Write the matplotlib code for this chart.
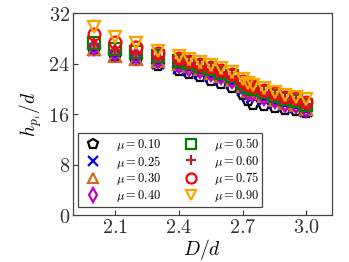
import matplotlib
matplotlib.use("Agg")
import matplotlib.pyplot as plt
from matplotlib.ticker import FuncFormatter

plt.rcParams['mathtext.fontset'] = 'cm'
plt.rcParams['font.family'] = ['DejaVu Serif']

D = [2.0, 2.1, 2.2, 2.3, 2.4, 2.45, 2.5, 2.55, 2.6, 2.65, 2.7, 2.725, 2.75, 2.8, 2.85, 2.9, 2.95, 3.0]

mu_labels = ['0.10', '0.25', '0.30', '0.40', '0.50', '0.60', '0.75', '0.90']
h_010 = [26.2, 25.2, 24.6, 23.8, 23.0, 22.6, 22.1, 21.5, 20.9, 20.3, 19.2, 18.2, 17.7, 17.4, 17.2, 16.9, 16.7, 16.3]
h_025 = [26.2, 25.2, 24.7, 24.1, 23.4, 23.0, 22.6, 22.1, 21.6, 21.0, 19.9, 19.1, 18.8, 18.3, 17.8, 17.4, 17.1, 16.5]
h_030 = [26.3, 25.3, 24.8, 24.4, 24.0, 23.6, 23.1, 22.6, 22.1, 21.5, 20.4, 19.7, 19.4, 18.9, 18.3, 17.8, 17.5, 16.9]
h_040 = [26.7, 25.7, 25.3, 24.6, 23.8, 23.4, 23.0, 22.5, 22.0, 21.4, 20.3, 19.6, 19.3, 18.8, 18.2, 17.7, 17.4, 16.8]
h_050 = [27.3, 26.3, 25.8, 25.2, 24.5, 24.1, 23.6, 23.1, 22.6, 22.0, 20.9, 20.3, 20.0, 19.5, 18.9, 18.4, 18.1, 17.5]
h_060 = [27.2, 26.2, 25.7, 25.1, 24.6, 24.2, 23.7, 23.2, 22.7, 22.1, 21.0, 20.4, 20.1, 19.6, 19.0, 18.5, 18.2, 17.6]
h_075 = [28.7, 27.5, 26.7, 25.7, 24.9, 24.5, 24.0, 23.5, 23.0, 22.4, 21.3, 20.7, 20.4, 19.9, 19.3, 18.8, 18.5, 18.0]
h_090 = [29.9, 28.2, 27.3, 26.1, 25.2, 24.8, 24.3, 23.8, 23.3, 22.7, 21.6, 21.0, 20.7, 20.2, 19.6, 19.1, 18.8, 18.4]
series = [h_010, h_025, h_030, h_040, h_050, h_060, h_075, h_090]

markers = ['p', 'x', '^', 'd', 's', '+', 'o', 'v']
colors = ['black', 'blue', 'chocolate', 'm', 'green', 'brown', 'red', 'orange']

xticks = [2.1, 2.4, 2.7, 3.0]
yticks = [0, 8, 16, 24, 32]

fig = plt.figure(figsize=(3.49, 2.62), dpi=100)
ax = fig.add_axes([0.208, 0.179, 0.743, 0.770])

for h, m, c, lab in zip(series, markers, colors, mu_labels):
    filled = m in ('x', '+')
    ax.plot(D, h, linestyle='none', marker=m, markersize=8.5,
            markeredgewidth=1.6, markeredgecolor=c,
            markerfacecolor=(c if filled else 'none'),
            label=r'$\mu = %s$' % lab)

ax.set_xlim(1.9, 3.12)
ax.set_ylim(0, 32)
ax.set_xticks(xticks)
ax.set_yticks(yticks)
ax.xaxis.set_major_formatter(FuncFormatter(lambda v, p: r'$%.1f$' % v))
ax.yaxis.set_major_formatter(FuncFormatter(lambda v, p: r'$%d$' % v))
ax.tick_params(direction='in', length=3.5, width=0.8, labelsize=14.5, colors='#333333', pad=2)
for s in ax.spines.values():
    s.set_color('#444444')
    s.set_linewidth(0.9)

ax.set_xlabel(r'$D/d$', fontsize=14, labelpad=0)
ax.set_ylabel(r'$h_{p_i}/d$', fontsize=14, labelpad=3)

leg = ax.legend(loc='lower left', ncol=2, fontsize=9, frameon=True, fancybox=False,
                edgecolor='#444444', framealpha=1, handletextpad=0.8,
                columnspacing=1.4, labelspacing=0.05, borderpad=0.25,
                markerscale=0.85,
                bbox_to_anchor=(0.02, 0.04), borderaxespad=0)
leg.get_frame().set_linewidth(0.9)

fig.savefig('out.png', dpi=100)
